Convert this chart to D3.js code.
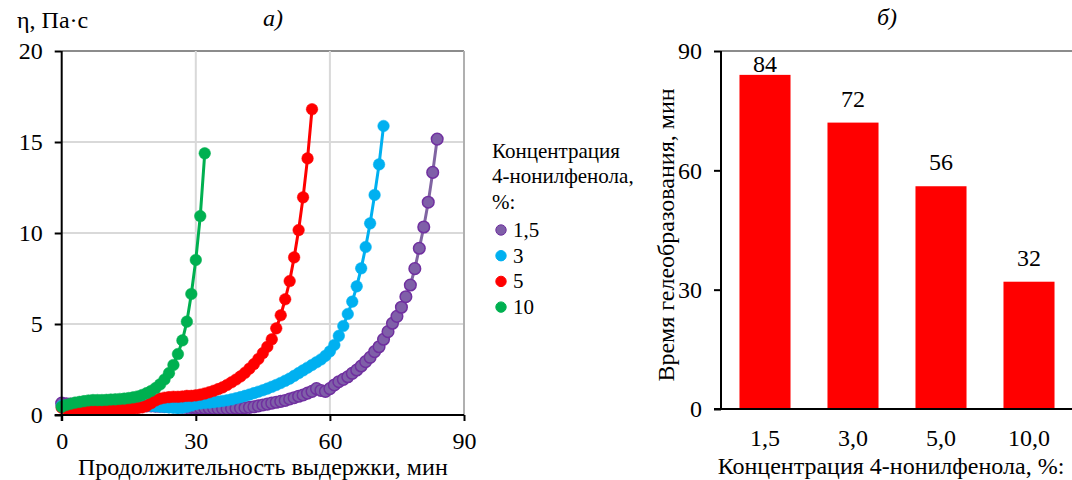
<!DOCTYPE html>
<html>
<head>
<meta charset="utf-8">
<script src="https://cdn.jsdelivr.net/npm/d3@7"></script>
<style>
  body { margin: 0; background: #fff; }
  svg { display: block; }
  svg text { font-family: "Liberation Serif", "Times New Roman", "DejaVu Serif", serif; fill: #000; }
</style>
</head>
<body>
<svg id="chart" width="1072" height="480"></svg>
<script>
// viscosity, Pa*s, one reading per minute starting at 0 min
const visc15 = [0.65, 0.62, 0.6, 0.6, 0.6, 0.6, 0.6, 0.6, 0.6, 0.6,
    0.58, 0.57, 0.56, 0.55, 0.55, 0.55, 0.54, 0.53, 0.52, 0.5,
    0.5, 0.49, 0.48, 0.47, 0.46, 0.45, 0.44, 0.43, 0.42, 0.41,
    0.4, 0.39, 0.38, 0.37, 0.36, 0.35, 0.35, 0.35, 0.36, 0.37,
    0.38, 0.4, 0.42, 0.45, 0.5, 0.55, 0.6, 0.65, 0.7, 0.75,
    0.8, 0.88, 0.95, 1.03, 1.1, 1.2, 1.3, 1.45, 1.35, 1.3,
    1.45, 1.65, 1.83, 1.96, 2.1, 2.29, 2.47, 2.69, 2.93, 3.17,
    3.48, 3.75, 4.16, 4.58, 5.04, 5.42, 5.92, 6.5, 7.14, 8.04,
    9.16, 10.33, 11.69, 13.33, 15.16];
const visc3 = [0.5, 0.45, 0.42, 0.4, 0.4, 0.42, 0.45, 0.5, 0.55, 0.58,
    0.6, 0.62, 0.62, 0.62, 0.62, 0.6, 0.6, 0.58, 0.55, 0.52,
    0.5, 0.48, 0.46, 0.44, 0.42, 0.4, 0.38, 0.4, 0.45, 0.52,
    0.6, 0.64, 0.66, 0.68, 0.71, 0.74, 0.77, 0.81, 0.86, 0.92,
    0.98, 1.05, 1.12, 1.2, 1.28, 1.36, 1.45, 1.55, 1.65, 1.76,
    1.88, 2.0, 2.15, 2.3, 2.45, 2.6, 2.75, 2.9, 3.05, 3.25,
    3.5, 3.85, 4.35, 4.89, 5.55, 6.23, 7.07, 8.06, 9.23, 10.53,
    12.09, 13.77, 15.88];
const visc5 = [0.4, 0.35, 0.3, 0.3, 0.3, 0.3, 0.3, 0.3, 0.3, 0.32,
    0.32, 0.32, 0.33, 0.33, 0.33, 0.35, 0.35, 0.38, 0.42, 0.5,
    0.65, 0.8, 0.9, 0.95, 0.98, 1.0, 1.0, 1.02, 1.05, 1.05,
    1.08, 1.12, 1.18, 1.25, 1.33, 1.42, 1.52, 1.65, 1.8, 1.95,
    2.12, 2.32, 2.55, 2.8, 3.08, 3.4, 3.75, 4.16, 4.76, 5.48,
    6.36, 7.36, 8.66, 10.16, 11.96, 14.1, 16.8];
const visc10 = [0.45, 0.55, 0.62, 0.68, 0.72, 0.76, 0.8, 0.82, 0.82, 0.82,
    0.83, 0.85, 0.86, 0.88, 0.9, 0.93, 0.97, 1.02, 1.1, 1.2,
    1.32, 1.48, 1.68, 1.95, 2.3, 2.75, 3.35, 4.1, 5.13, 6.65,
    8.52, 10.93, 14.38];

const seriesNames = ['1,5', '3', '5', '10'];
const seriesValues = [visc15, visc3, visc5, visc10];

const xTicks = [0, 30, 60, 90];
const yTicks = [0, 5, 10, 15, 20];

// panel b
const barCategories = ['1,5', '3,0', '5,0', '10,0'];
const gelTime = [84, 72, 56, 32];
const barTicks = [0, 30, 60, 90];

const lineColors = ['#8064a2', '#00b0f0', '#ff0000', '#00b050'];
const markFill = ['#7f5fa8', '#00b0f0', '#ff0000', '#00b050'];
const markStroke = ['#7030a0', '#00b0f0', '#ff0000', '#00b050'];

const svg = d3.select('#chart');
const serif = '"Liberation Serif", "Times New Roman", serif';
const fs = 24;

function label(x, y, t, size) {
    return svg.append('text')
        .attr('x', x).attr('y', y)
        .attr('font-family', serif)
        .attr('font-size', size || fs)
        .text(t);
}

function styleAxis(a) {
    a.attr('font-family', serif);
    a.select('.domain').attr('stroke', '#000').attr('stroke-width', 2);
    a.selectAll('.tick line').attr('stroke', '#000').attr('stroke-width', 2);
    a.selectAll('text').attr('font-size', fs)
        .attr('font-family', serif).attr('fill', '#000');
}

// ---------- panel a ----------
let x = d3.scaleLinear().domain([0, 90]).range([61.7, 464]);
let y = d3.scaleLinear().domain([0, 20]).range([415, 51]);

let grid = svg.append('g');
grid.selectAll('line.h')
    .data(yTicks.filter(function(d) { return d > 0; }))
    .enter().append('line')
    .attr('x1', x(0)).attr('x2', x(90))
    .attr('y1', function(d) { return y(d); })
    .attr('y2', function(d) { return y(d); })
    .attr('stroke', function(d) { return d === 20 ? '#8c8c8c' : '#d9d9d9'; })
    .attr('stroke-width', 2);
grid.selectAll('line.v')
    .data(xTicks.filter(function(d) { return d > 0; }))
    .enter().append('line')
    .attr('y1', y(0)).attr('y2', y(20))
    .attr('x1', function(d) { return x(d); })
    .attr('x2', function(d) { return x(d); })
    .attr('stroke', function(d) { return d === 90 ? '#b0b0b0' : '#d9d9d9'; })
    .attr('stroke-width', 2);

let lineGen = d3.line()
    .x(function(d, i) { return x(i); })
    .y(function(d) { return y(d); });

seriesValues.forEach(function(vals, k) {
    let g = svg.append('g');
    g.append('path')
        .attr('d', lineGen(vals))
        .attr('fill', 'none')
        .attr('stroke', lineColors[k])
        .attr('stroke-width', 3);
    g.selectAll('circle')
        .data(vals)
        .enter().append('circle')
        .attr('cx', function(d, i) { return x(i); })
        .attr('cy', function(d) { return y(d); })
        .attr('r', 5.8)
        .attr('fill', markFill[k])
        .attr('stroke', markStroke[k])
        .attr('stroke-width', k === 0 ? 1.5 : 0.5);
});

let xAxis = svg.append('g')
    .attr('transform', 'translate(0,' + y(0) + ')')
    .call(d3.axisBottom(x).tickValues(xTicks).tickSize(6).tickPadding(11));
let yAxis = svg.append('g')
    .attr('transform', 'translate(' + x(0) + ',0)')
    .call(d3.axisLeft(y).tickValues(yTicks).tickSize(7).tickPadding(12));
styleAxis(xAxis);
styleAxis(yAxis);
yAxis.select('.domain').attr('d', 'M0,' + y(20) + 'V' + (y(0) + 6));
xAxis.select('.domain').attr('d', 'M' + (x(0) - 7) + ',0H' + x(90));

label(x(0) + (x(90) - x(0)) / 2, 475, 'Продолжительность выдержки, мин')
    .attr('text-anchor', 'middle');
label(17, 28, 'η, Па·с');
label(263, 26, 'а)').attr('font-style', 'italic');

// legend
['Концентрация', '4-нонилфенола,', '%:'].forEach(function(t, i) {
    label(492, 157.5 + i * 25.5, t, 21);
});
seriesNames.forEach(function(n, k) {
    let yy = 230 + k * 25.7;
    svg.append('circle')
        .attr('cx', 501).attr('cy', yy).attr('r', 5.2)
        .attr('fill', markFill[k])
        .attr('stroke', markStroke[k]);
    label(513, yy + 7, n, 21);
});

// ---------- panel b ----------
let xb = d3.scaleBand().domain(barCategories).range([721, 1073])
    .paddingInner(0.42).paddingOuter(0.21);
let yb = d3.scaleLinear().domain([0, 90]).range([409, 51]);

svg.append('line')
    .attr('x1', 721).attr('x2', 1072)
    .attr('y1', yb(90)).attr('y2', yb(90))
    .attr('stroke', '#8c8c8c').attr('stroke-width', 2);

svg.append('g').selectAll('rect')
    .data(gelTime)
    .enter().append('rect')
    .attr('x', function(d, i) { return xb(barCategories[i]); })
    .attr('width', xb.bandwidth())
    .attr('y', function(d) { return yb(d); })
    .attr('height', function(d) { return yb(0) - yb(d); })
    .attr('fill', '#ff0000');

svg.append('g').selectAll('text')
    .data(gelTime)
    .enter().append('text')
    .attr('x', function(d, i) { return xb(barCategories[i]) + xb.bandwidth() / 2; })
    .attr('y', function(d) { return Math.max(yb(d) - 16, yb(90) + 21); })
    .attr('text-anchor', 'middle')
    .attr('font-family', serif)
    .attr('font-size', fs)
    .text(function(d) { return d; });

let xbAxis = svg.append('g')
    .attr('transform', 'translate(0,' + yb(0) + ')')
    .call(d3.axisBottom(xb).tickSize(0).tickPadding(20));
let ybAxis = svg.append('g')
    .attr('transform', 'translate(721,0)')
    .call(d3.axisLeft(yb).tickValues(barTicks).tickSize(7).tickPadding(12));
styleAxis(xbAxis);
styleAxis(ybAxis);
xbAxis.select('.domain').attr('d', 'M714,0H1072');
ybAxis.select('.domain').attr('d', 'M0,' + yb(90) + 'V' + yb(0));

label(891, 474, 'Концентрация 4-нонилфенола, %:').attr('text-anchor', 'middle');

svg.append('text')
    .attr('transform', 'translate(674,235) rotate(-90)')
    .attr('text-anchor', 'middle')
    .attr('font-family', serif)
    .attr('font-size', fs)
    .text('Время гелеобразования, мин');

label(877, 25, 'б)').attr('font-style', 'italic');
</script>
</body>
</html>
